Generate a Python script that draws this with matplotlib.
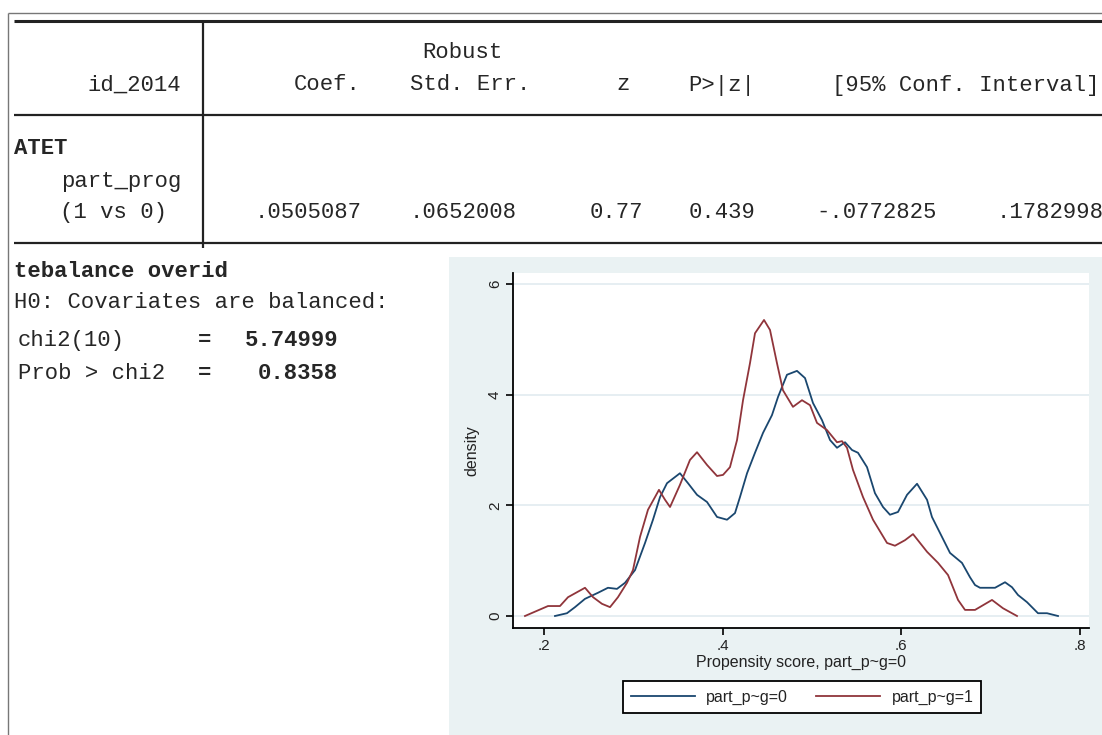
import matplotlib.pyplot as plt
from matplotlib.lines import Line2D
from matplotlib.patches import Rectangle

W, H = 1102, 735

# teffects ipwra output, ATET of part_prog
header = ["Coef.", "Std. Err.", "z", "P>|z|", "[95% Conf. Interval]"]
values = [".0505087", ".0652008", "0.77", "0.439", "-.0772825", ".1782998"]

# tebalance overid
chi2_df = 10
chi2_stat = "5.74999"
chi2_prob = "0.8358"

# kernel density of the propensity score, control group (part_prog=0)
ps0 = [0.2123, 0.2257, 0.2347, 0.2459, 0.2605, 0.2716, 0.2817, 0.2907, 0.3019,
       0.3131, 0.3220, 0.3299, 0.3377, 0.3522, 0.3612, 0.3713, 0.3825, 0.3937,
       0.4049, 0.4138, 0.4194, 0.4273, 0.4362, 0.4452, 0.4552, 0.4620, 0.4720,
       0.4832, 0.4922, 0.5011, 0.5112, 0.5202, 0.5280, 0.5370, 0.5448, 0.5515,
       0.5616, 0.5705, 0.5795, 0.5873, 0.5963, 0.6064, 0.6176, 0.6288, 0.6343,
       0.6455, 0.6545, 0.6679, 0.6769, 0.6825, 0.6881, 0.7049, 0.7161, 0.7239,
       0.7306, 0.7407, 0.7530, 0.7631, 0.7754]
dens0 = [0.00, 0.05, 0.16, 0.31, 0.42, 0.51, 0.49, 0.60, 0.83,
         1.32, 1.74, 2.15, 2.40, 2.58, 2.40, 2.19, 2.06, 1.79,
         1.74, 1.86, 2.15, 2.58, 2.95, 3.31, 3.63, 3.96, 4.36,
         4.43, 4.30, 3.85, 3.54, 3.18, 3.04, 3.14, 3.00, 2.95,
         2.69, 2.22, 1.97, 1.83, 1.88, 2.19, 2.39, 2.10, 1.79,
         1.43, 1.14, 0.96, 0.70, 0.56, 0.51, 0.51, 0.61, 0.52,
         0.38, 0.25, 0.05, 0.05, 0.00]

# kernel density of the propensity score, treated group (part_prog=1)
ps1 = [0.1787, 0.2045, 0.2179, 0.2269, 0.2459, 0.2549, 0.2649, 0.2739, 0.2828,
       0.2929, 0.2996, 0.3075, 0.3164, 0.3243, 0.3287, 0.3355, 0.3411, 0.3522,
       0.3634, 0.3713, 0.3825, 0.3937, 0.4004, 0.4082, 0.4161, 0.4228, 0.4306,
       0.4362, 0.4463, 0.4530, 0.4608, 0.4675, 0.4787, 0.4888, 0.4978, 0.5056,
       0.5168, 0.5280, 0.5336, 0.5392, 0.5459, 0.5571, 0.5683, 0.5840, 0.5929,
       0.6041, 0.6131, 0.6288, 0.6411, 0.6523, 0.6635, 0.6713, 0.6825, 0.7015,
       0.7138, 0.7295]
dens1 = [0.00, 0.18, 0.18, 0.34, 0.51, 0.34, 0.22, 0.16, 0.34,
         0.60, 0.83, 1.43, 1.92, 2.15, 2.28, 2.10, 1.97, 2.37,
         2.82, 2.96, 2.73, 2.53, 2.55, 2.69, 3.18, 3.90, 4.57,
         5.11, 5.35, 5.17, 4.57, 4.08, 3.78, 3.90, 3.81, 3.49,
         3.36, 3.14, 3.16, 3.04, 2.64, 2.15, 1.74, 1.32, 1.27,
         1.37, 1.48, 1.16, 0.96, 0.74, 0.29, 0.11, 0.11, 0.29,
         0.14, 0.00]


def fx(x):
    return x / W


def fy(y):
    return 1 - y / H


def hline(fig, y, x0, x1, lw, color="#222222"):
    fig.add_artist(Line2D([fx(x0), fx(x1)], [fy(y), fy(y)], transform=fig.transFigure,
                          lw=lw, color=color, solid_capstyle="butt"))


def vline(fig, x, y0, y1, lw, color="#222222"):
    fig.add_artist(Line2D([fx(x), fx(x)], [fy(y0), fy(y1)], transform=fig.transFigure,
                          lw=lw, color=color, solid_capstyle="butt"))


def mono(fig, x, y, s, ha="left", bold=False):
    fig.text(fx(x), fy(y), s, ha=ha, va="center", family="Liberation Mono",
             fontsize=16, color="#262626", weight="bold" if bold else "normal")


fig = plt.figure(figsize=(W / 100, H / 100), dpi=100)
fig.patch.set_facecolor("white")

# results window frame and table rules
hline(fig, 13, 8, W, 1.0, "#777777")
vline(fig, 8, 13, H, 1.0, "#777777")
hline(fig, 21, 14, W, 2.2)
hline(fig, 115, 14, W, 1.6)
hline(fig, 243, 14, W, 1.6)
vline(fig, 203, 21, 248, 1.6)

# table header
mono(fig, 462, 52, "Robust", ha="center")
mono(fig, 181, 85, "id_2014", ha="right")
mono(fig, 361, 85, header[0], ha="right")
mono(fig, 530, 85, header[1], ha="right")
mono(fig, 623, 85, header[2], ha="center")
mono(fig, 755, 85, header[3], ha="right")
mono(fig, 832, 85, header[4])

# table body
mono(fig, 14, 148, "ATET", bold=True)
mono(fig, 181, 182, "part_prog", ha="right")
mono(fig, 167, 213, "(1 vs 0)", ha="right")
rights = [362, 517, 643, 756, 937]
for r, v in zip(rights, values[:5]):
    mono(fig, r, 213, v, ha="right")
mono(fig, 997, 213, values[5])

# overidentification test
mono(fig, 14, 272, "tebalance overid", bold=True)
mono(fig, 14, 302, "H0: Covariates are balanced:")
mono(fig, 18, 341, f"chi2({chi2_df})")
mono(fig, 18, 373, "Prob > chi2")
mono(fig, 205, 341, "=", ha="center", bold=True)
mono(fig, 205, 373, "=", ha="center", bold=True)
mono(fig, 338, 341, chi2_stat, ha="right", bold=True)
mono(fig, 338, 373, chi2_prob, ha="right", bold=True)

# graph region
fig.add_artist(Rectangle((fx(449), 0), 1 - fx(449), fy(257), transform=fig.transFigure,
                         facecolor="#EAF2F3", edgecolor="none", zorder=0))

ax = fig.add_axes([fx(513), fy(628), (1089 - 513) / W, (628 - 273) / H])
ax.set_facecolor("white")
blue = "#1A476F"
red = "#90353B"
ax.plot(ps0, dens0, color=blue, lw=1.3)
ax.plot(ps1, dens1, color=red, lw=1.3)

tick_font = {"family": "Liberation Sans", "size": 11, "color": "#222222"}
ax.set_xlim(0.1653, 0.8101)
ax.set_ylim(-0.217, 6.199)
ax.set_xticks([0.2, 0.4, 0.6, 0.8])
ax.set_xticklabels([".2", ".4", ".6", ".8"], fontdict=tick_font)
ax.set_yticks([0, 2, 4, 6])
ax.set_yticklabels(["0", "2", "4", "6"], fontdict=tick_font, rotation=90, va="center")
ax.yaxis.grid(True, color="#E4EDF1", lw=1.3)
ax.set_axisbelow(True)
for s in ("top", "right"):
    ax.spines[s].set_visible(False)
for s in ("left", "bottom"):
    ax.spines[s].set_linewidth(1.3)
    ax.spines[s].set_color("black")
ax.tick_params(direction="out", length=5, width=1.2, pad=3)
ax.set_xlabel("Propensity score, part_p~g=0", family="Liberation Sans", fontsize=11.5,
              color="#222222", labelpad=1)
ax.set_ylabel("density", family="Liberation Sans", fontsize=11.5, color="#222222",
              labelpad=6)

handles = [Line2D([], [], color=blue, lw=1.3), Line2D([], [], color=red, lw=1.3)]
leg = fig.legend(handles, ["part_p~g=0", "part_p~g=1"], loc="center",
                 bbox_to_anchor=(fx(802), fy(697)), ncol=2, fancybox=False,
                 framealpha=1, edgecolor="black", handlelength=4.0, columnspacing=1.8,
                 handletextpad=0.7, borderpad=0.5,
                 prop={"family": "Liberation Sans", "size": 11.5})
leg.get_frame().set_linewidth(1.3)
for t in leg.get_texts():
    t.set_color("#222222")

fig.savefig("out.png", dpi=100)
